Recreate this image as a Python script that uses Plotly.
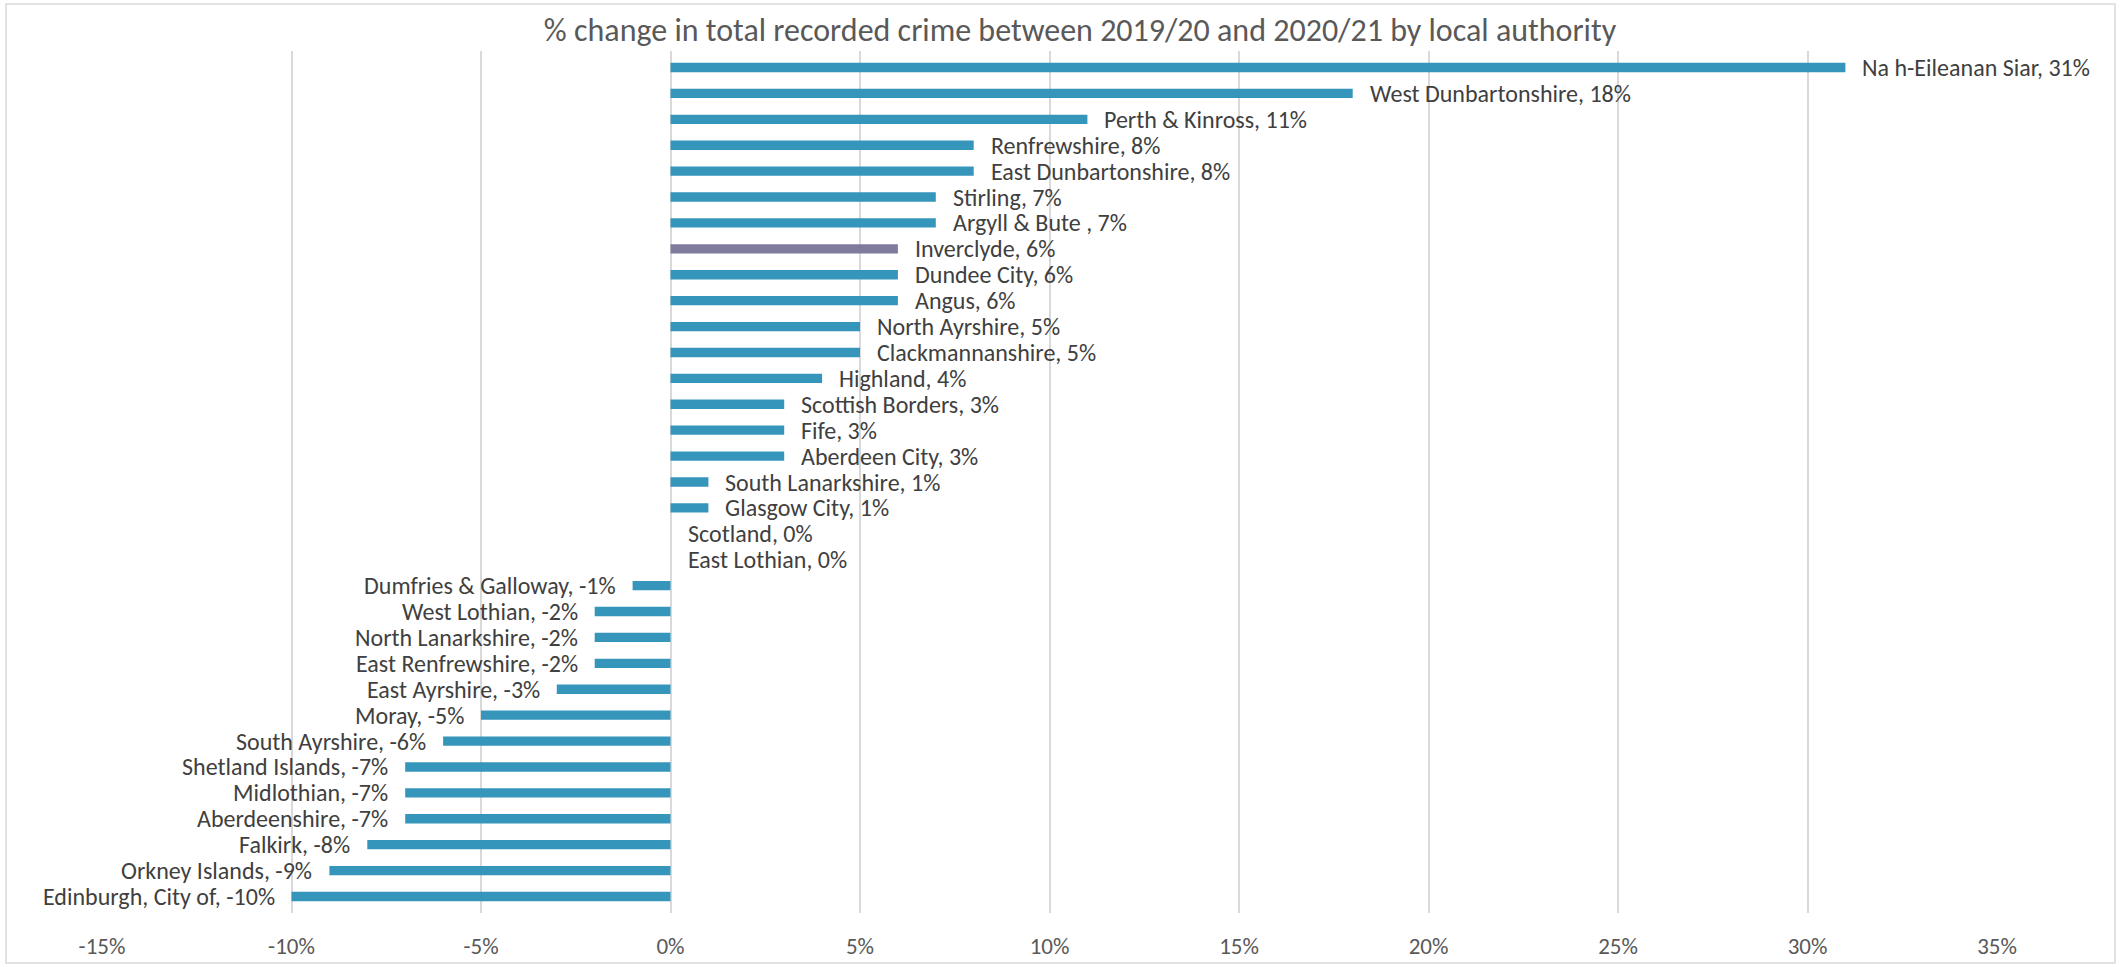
import plotly.graph_objects as go

title_text = "% change in total recorded crime between 2019/20 and 2020/21 by local authority"

authorities = [
    "Na h-Eileanan Siar", "West Dunbartonshire", "Perth & Kinross", "Renfrewshire",
    "East Dunbartonshire", "Stirling", "Argyll & Bute ", "Inverclyde", "Dundee City",
    "Angus", "North Ayrshire", "Clackmannanshire", "Highland", "Scottish Borders",
    "Fife", "Aberdeen City", "South Lanarkshire", "Glasgow City", "Scotland",
    "East Lothian", "Dumfries & Galloway", "West Lothian", "North Lanarkshire",
    "East Renfrewshire", "East Ayrshire", "Moray", "South Ayrshire", "Shetland Islands",
    "Midlothian", "Aberdeenshire", "Falkirk", "Orkney Islands", "Edinburgh, City of",
]
pct_change = [
    31, 18, 11, 8, 8, 7, 7, 6, 6, 6, 5, 5, 4, 3, 3, 3, 1, 1, 0, 0,
    -1, -2, -2, -2, -3, -5, -6, -7, -7, -7, -8, -9, -10,
]
highlight = "Inverclyde"

tick_vals = [-15, -10, -5, 0, 5, 10, 15, 20, 25, 30, 35]
tick_text = ["-15%", "-10%", "-5%", "0%", "5%", "10%", "15%", "20%", "25%", "30%", "35%"]

BAR = "#3595BB"
HIGH = "#7F7B9C"
GRID = "#D9D9D9"
FONT = "Carlito, Calibri, Lato, sans-serif"

colors = [HIGH if a == highlight else BAR for a in authorities]

fig = go.Figure()
fig.add_trace(go.Bar(
    y=authorities, x=pct_change, orientation="h",
    marker=dict(color=colors, line=dict(width=0)),
    hoverinfo="x+y",
))

for a, v in zip(authorities, pct_change):
    neg = v < 0
    fig.add_annotation(
        x=v, y=a, xref="x", yref="y",
        text=f"{a}, {v}%",
        showarrow=False,
        xanchor="right" if neg else "left",
        xshift=-15 if neg else 15,
        font=dict(family=FONT, size=24, color="#404040"),
    )

W, H = 2120, 967
ml, mr, mt, mb = 102, 123, 51, 54
pw, ph = W - ml - mr, H - mt - mb

def px_to_paper_x(px):
    return (px - ml) / pw

def px_to_paper_y(py):
    return (H - mb - py) / ph

fig.add_shape(
    type="rect", xref="paper", yref="paper",
    x0=px_to_paper_x(6), x1=px_to_paper_x(2115),
    y0=px_to_paper_y(963), y1=px_to_paper_y(4),
    line=dict(color=GRID, width=1.5), fillcolor="rgba(0,0,0,0)", layer="below",
)

fig.update_layout(
    width=W, height=H,
    margin=dict(l=ml, r=mr, t=mt, b=mb, autoexpand=False),
    paper_bgcolor="white", plot_bgcolor="white",
    bargap=0.64,
    showlegend=False,
    title=dict(
        text=title_text, x=1080 / W, xanchor="center", xref="container",
        y=1 - 30 / H, yanchor="middle", yref="container",
        font=dict(family=FONT, size=32, color="#595959"),
    ),
    xaxis=dict(
        range=[-15, 35], tickvals=tick_vals, ticktext=tick_text,
        showgrid=True, gridcolor=GRID, gridwidth=1.5,
        zeroline=True, zerolinecolor=GRID, zerolinewidth=1.5,
        showline=False, ticks="outside", ticklen=12, tickcolor="rgba(0,0,0,0)",
        tickfont=dict(family=FONT, size=23, color="#595959"),
        fixedrange=True, automargin=False,
    ),
    yaxis=dict(
        autorange="reversed", showticklabels=False, showgrid=False,
        zeroline=False, showline=False, fixedrange=True, automargin=False,
    ),
)

fig.write_html(
    "out.html",
    config={"displayModeBar": False},
    post_script="document.body.style.margin='0px';document.body.style.overflow='hidden';",
)
